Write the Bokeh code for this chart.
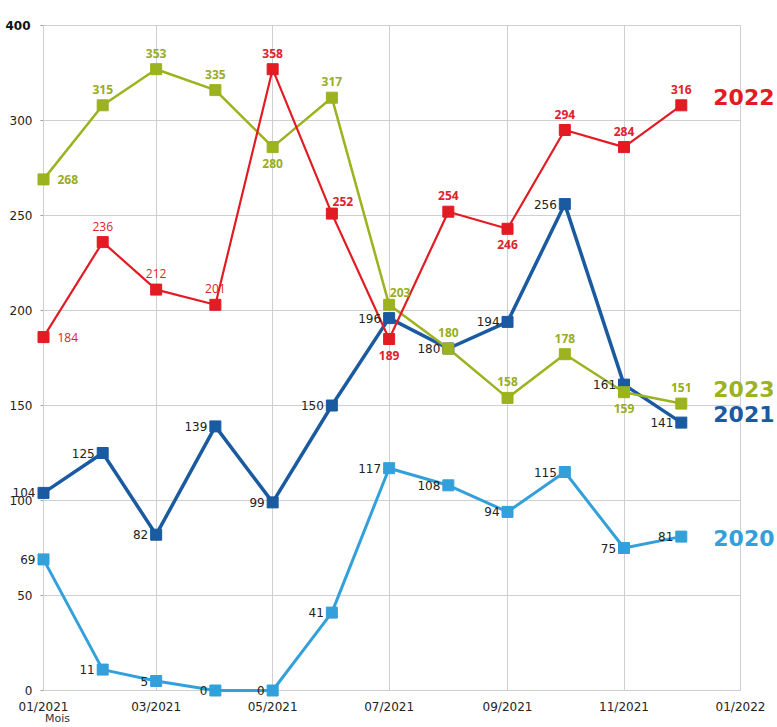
import pandas as pd
from bokeh.plotting import figure
from bokeh.models import ColumnDataSource, Label, Range1d, MonthsTicker, DatetimeTickFormatter, FixedTicker
from bokeh.core.properties import value
from bokeh.embed import file_html
from bokeh.resources import INLINE

# ---------------- data ----------------
months = ["2021-01", "2021-02", "2021-03", "2021-04", "2021-05", "2021-06",
          "2021-07", "2021-08", "2021-09", "2021-10", "2021-11", "2021-12"]

values_2020 = [69, 11, 5, 0, 0, 41, 117, 108, 94, 115, 75, 81]
values_2021 = [104, 125, 82, 139, 99, 150, 196, 180, 194, 256, 161, 141]
values_2022 = [184, 236, 212, 201, 358, 252, 189, 254, 246, 294, 284, 316]
values_2023 = [268, 315, 353, 335, 280, 317, 203, 180, 158, 178, 159, 151]

# heights at which the reference really draws the points (its upper part is squeezed)
drawn_2020 = [69, 11, 5, 0, 0, 41, 117, 108, 94, 115, 75, 81]
drawn_2021 = [104, 125, 82, 139, 99, 150, 196, 180, 194, 256, 161, 141]
drawn_2022 = [186, 236, 211, 203, 327, 251, 185, 252, 243, 295, 286, 308]
drawn_2023 = [269, 308, 327, 316, 286, 312, 203, 180, 154, 177, 157, 151]

y_ticks = [0, 50, 100, 150, 200, 250, 300, 350]
y_tick_labels = ["0", "50", "100", "150", "200", "250", "300", ""]
top_tick_label = "400"
x_axis_title = "Mois"
series_names = ["2020", "2021", "2022", "2023"]
x_start, x_end = "2021-01-01", "2022-01-01"
y_start, y_end = 0, 350

# ---------------- layout / styles ----------------
W, H = 777, 727
FRAME_L, FRAME_R, FRAME_T, FRAME_B = 43, 740, 25, 690   # where the axes box sits in the picture

RED = "#e31b23"
GREEN = "#9cb21e"
DBLUE = "#1a5aa0"
LBLUE = "#33a0dc"

place_2020 = ["left"] * 12
place_2021 = ["left"] * 12
place_2022 = ["right", "above", "above", "above", "above", "aboveright",
              "below", "above", "below", "above", "above", "above"]
place_2023 = ["right", "above", "above", "above", "below", "above",
              "aboveright", "above", "above", "above", "below", "above"]
weight_2022 = ["normal"] * 4 + ["bold"] * 8
weight_2023 = ["bold"] * 12
weight_blue = ["normal"] * 12

OFFS = {"left": (-8, 0, "right"), "right": (14, 0, "left"),
        "above": (0, -16, "center"), "below": (0, 16, "center"),
        "aboveright": (11, -12, "center")}

dates = pd.to_datetime(months)
t0_ms = pd.Timestamp(x_start).value / 1e6
t1_ms = pd.Timestamp(x_end).value / 1e6
px_per_ms = (FRAME_R - FRAME_L) / (t1_ms - t0_ms)
px_per_y = (FRAME_B - FRAME_T) / (y_end - y_start)
xr = Range1d(t0_ms - FRAME_L / px_per_ms, t1_ms + (W - FRAME_R) / px_per_ms)
yr = Range1d(y_start - (H - FRAME_B) / px_per_y, y_end + FRAME_T / px_per_y)

p = figure(width=W, height=H, output_backend="svg", toolbar_location=None,
           x_axis_type="datetime", x_range=xr, y_range=yr,
           min_border=0, min_border_left=0, min_border_right=0,
           min_border_top=0, min_border_bottom=0)
p.outline_line_color = None
p.background_fill_color = "white"
p.border_fill_color = "white"

p.xaxis.ticker = MonthsTicker(months=[0, 2, 4, 6, 8, 10])
p.xaxis.formatter = DatetimeTickFormatter(months="%m/%Y", years="%m/%Y", days="%m/%Y")
p.yaxis.ticker = FixedTicker(ticks=y_ticks)
p.yaxis.major_label_overrides = {t: l for t, l in zip(y_ticks, y_tick_labels)}
p.xaxis.fixed_location = y_start
p.yaxis.fixed_location = t0_ms
p.xaxis.bounds = (t0_ms, t1_ms)
p.yaxis.bounds = (y_start, y_end)

for ax in (p.xaxis, p.yaxis):
    ax.minor_tick_line_color = None
    ax.major_label_text_font = "DejaVu Sans"
    ax.major_label_text_font_size = "12px"
    ax.major_label_text_color = "#222222"
    ax.axis_line_color = "#a0a0a0"
    ax.major_tick_line_color = "#a0a0a0"
    ax.major_tick_in = 0
    ax.level = "underlay"
p.yaxis.major_tick_out = 3
p.yaxis.major_label_standoff = 8
p.xaxis.major_tick_out = 0
p.xaxis.major_label_standoff = 9

p.grid.grid_line_color = "#cfcfcf"
p.grid.grid_line_width = 1
p.xgrid.cross_bounds = (y_start, y_end)
p.ygrid.cross_bounds = (t0_ms, t1_ms)

series = [
    (drawn_2020, values_2020, LBLUE, 3, place_2020, weight_blue, "#222222", "DejaVu Sans"),
    (drawn_2021, values_2021, DBLUE, 3.5, place_2021, weight_blue, "#222222", "DejaVu Sans"),
    (drawn_2023, values_2023, GREEN, 2.5, place_2023, weight_2023, "#98ad1f", "Open Sans"),
    (drawn_2022, values_2022, RED, 2.2, place_2022, weight_2022, "#e0222b", "Open Sans"),
]

sources = []
for drawn, vals, col, lw, place, weight, lcol, font in series:
    src = ColumnDataSource(dict(
        x=dates, y=drawn, text=[str(v) for v in vals],
        dx=[OFFS[k][0] for k in place], dy=[OFFS[k][1] for k in place],
        align=[OFFS[k][2] for k in place], weight=weight))
    sources.append(src)
    p.line("x", "y", source=src, line_color=col, line_width=lw)
    p.scatter("x", "y", source=src, marker="square", size=11,
              fill_color=col, line_color=col)

for src, (drawn, vals, col, lw, place, weight, lcol, font) in zip(sources, series):
    p.text("x", "y", text="text", source=src, x_offset="dx", y_offset="dy",
           text_align="align", text_baseline="middle", text_font=value(font),
           text_font_size="12px", text_color=lcol, text_font_style="weight")

# top tick label (bold in the reference)
p.add_layout(Label(x=t0_ms, y=y_ticks[-1], text=top_tick_label, x_offset=-13,
                   text_align="right", text_baseline="middle", text_font="DejaVu Sans",
                   text_font_size="12px", text_font_style="bold", text_color="#111111"))
# axis title
p.add_layout(Label(x=t0_ms, y=y_start, text=x_axis_title, x_offset=14, y_offset=-28,
                   text_align="center", text_baseline="middle", text_font="DejaVu Sans",
                   text_font_size="11px", text_color="#333333"))

# series names at the right end
name_info = [(drawn_2020, LBLUE, -1), (drawn_2021, DBLUE, 9),
             (drawn_2022, RED, 8), (drawn_2023, GREEN, 15)]
for name, (drawn, col, up) in zip(series_names, name_info):
    p.add_layout(Label(x=dates[-1], y=drawn[-1], text=name, x_offset=32, y_offset=up,
                       text_align="left", text_baseline="middle", text_font="DejaVu Sans",
                       text_font_size="22px", text_font_style="bold", text_color=col))

open("out.html", "w").write(file_html(p, INLINE))
